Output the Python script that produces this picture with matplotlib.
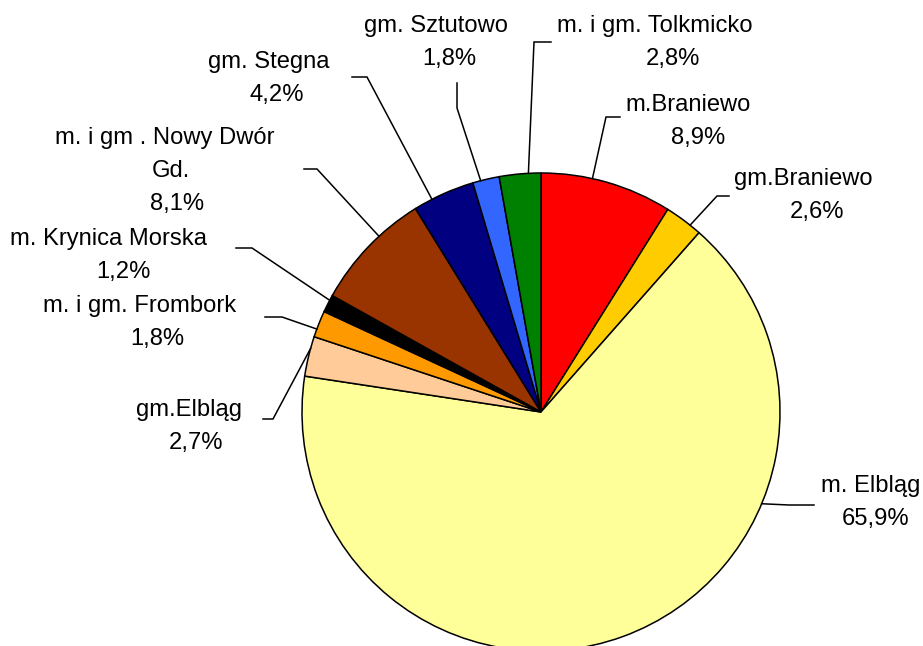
import numpy as np
import matplotlib
matplotlib.use("Agg")
import matplotlib.pyplot as plt

plt.rcParams["font.family"] = ["Liberation Sans", "DejaVu Sans"]

# data, clockwise from 12 o'clock
names = [
    "m.Braniewo",
    "gm.Braniewo",
    "m. Elbląg",
    "gm.Elbląg",
    "m. i gm. Frombork",
    "m. Krynica Morska",
    "m. i gm . Nowy Dwór\nGd.",
    "gm. Stegna",
    "gm. Sztutowo",
    "m. i gm. Tolkmicko",
]
shares = [8.9, 2.6, 65.9, 2.7, 1.8, 1.2, 8.1, 4.2, 1.8, 2.8]
colors = ["#FF0000", "#FFCC00", "#FFFF99", "#FFCC99", "#FF9900",
          "#000000", "#993300", "#000080", "#3366FF", "#008000"]

# layout in pixel coords (y down)
W, H = 923, 646
cx, cy, R = 541, 412, 239
name_x = [688, 803, 871, 189, 140, 108, 165, 269, 436, 655]
pct_x = [698, 817, 876, 196, 157, 123, 177, 277, 449, 673]
base_y = [111, 185, 492, 416, 312, 245, 144, 68, 32, 32]
line_h = 33
elbow = [(606, 117), (717, 196), (789, 505), (273, 419), (282, 317),
         (252, 248), (317, 169), (367, 77), (457, 108), (534, 42)]
leader_end = [(620, 117), (729, 196), (814, 505), (263, 419), (265, 317),
              (236, 248), (304, 169), (352, 77), (457, 83), (551, 42)]

fig = plt.figure(figsize=(W / 100, H / 100), dpi=100, facecolor="white")
ax = fig.add_axes([0, 0, 1, 1])

wedges, _ = ax.pie(
    shares, colors=colors, startangle=-90, counterclock=True,
    center=(cx, cy), radius=R,
    wedgeprops=dict(edgecolor="black", linewidth=1.1),
)
ax.set_xlim(0, W)
ax.set_ylim(H, 0)
ax.set_aspect("equal")
ax.axis("off")

fs = 17.1
for i, w in enumerate(wedges):
    t1, t2 = w.theta1, w.theta2
    ex, ey = elbow[i]
    # point of the arc nearest the elbow, kept inside the wedge
    ang = np.degrees(np.arctan2(ey - cy, ex - cx))
    while ang < t1:
        ang += 360
    while ang > t1 + 360:
        ang -= 360
    span = t2 - t1
    ang = min(max(ang, t1 + 0.3 * span), t2 - 0.3 * span)
    ax0 = cx + R * np.cos(np.radians(ang))
    ay0 = cy + R * np.sin(np.radians(ang))
    lx, ly = leader_end[i]
    ax.plot([ax0, ex, lx], [ay0, ey, ly], color="black", lw=1.1,
            solid_joinstyle="miter", clip_on=False)

    lines = names[i].split("\n")
    y = base_y[i]
    for j, ln in enumerate(lines):
        x = name_x[i] if j == 0 else (name_x[i] + pct_x[i]) / 2
        ax.text(x, y, ln, ha="center", va="baseline", fontsize=fs)
        y += line_h
    pct = f"{shares[i]:.1f}%".replace(".", ",")
    ax.text(pct_x[i], y, pct, ha="center", va="baseline", fontsize=fs)

fig.savefig("out.png", dpi=100, facecolor="white")
